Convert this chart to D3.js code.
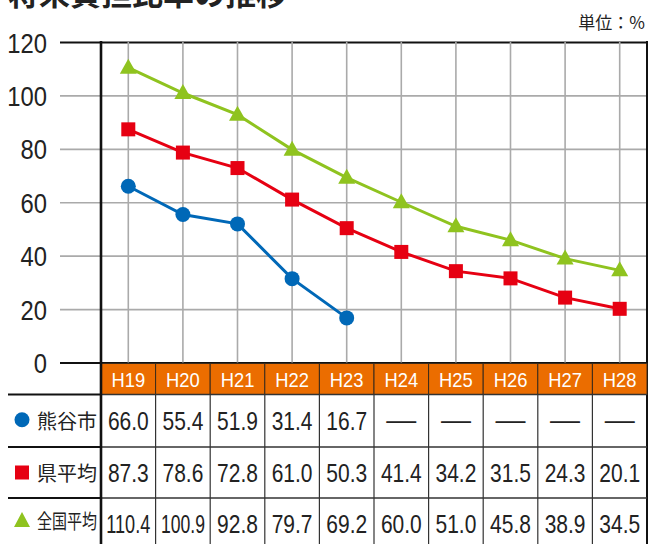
<!DOCTYPE html>
<html><head><meta charset="utf-8">
<script src="https://cdn.jsdelivr.net/npm/d3@7"></script>
<style>
html,body{margin:0;padding:0;background:#fff;}
svg{display:block;}
</style></head>
<body>
<svg id="c" width="649" height="544"></svg>
<script>
const title = "将来負担比率の推移";
const unitLabel = "単位：%";
const years = ["H19","H20","H21","H22","H23","H24","H25","H26","H27","H28"];
const kumagaya = [66.0,55.4,51.9,31.4,16.7,null,null,null,null,null];
const kenAvg = [87.3,78.6,72.8,61.0,50.3,41.4,34.2,31.5,24.3,20.1];
const national = [110.4,100.9,92.8,79.7,69.2,60.0,51.0,45.8,38.9,34.5];
const yTicks = [0,20,40,60,80,100,120];
const seriesNames = ["熊谷市","県平均","全国平均"];

const series = [
  {name:seriesNames[0], values:kumagaya, color:"#0068b7", shape:"circle"},
  {name:seriesNames[1], values:kenAvg, color:"#e60012", shape:"square"},
  {name:seriesNames[2], values:national, color:"#8fc31f", shape:"triangle"}
];

const svg = d3.select("#c");
const sans = "'Liberation Sans',Arimo,Arial,sans-serif";
const cjk = "'Noto Sans CJK JP','Noto Sans CJK SC',sans-serif";

const pL = 101, pR = 647, pT = 42, pB = 362.5;
const x = d3.scaleBand().domain(years).range([pL, pR]).padding(0);
const y = d3.scaleLinear().domain([0,120]).range([pB, pT]);
const cx = d => x(d) + x.bandwidth()/2;

// title
svg.append("text").attr("x",8).attr("y",5).attr("font-family",cjk).attr("font-weight","bold")
  .attr("font-size",31).attr("fill","#222").text(title);
svg.append("text").attr("x",645).attr("y",29).attr("text-anchor","end").attr("font-family",cjk)
  .attr("font-size",17).attr("fill","#222").text(unitLabel);

// horizontal grid
const yAxis = d3.axisLeft(y).tickValues(yTicks).tickSize(-(pR-60)).tickPadding(13).tickFormat(d3.format("d"));
const gy = svg.append("g").attr("transform",`translate(60,0)`).call(yAxis);
gy.select(".domain").remove();
gy.selectAll(".tick line").attr("stroke",d => (d===0||d===120)?"#111":"#aaa")
  .attr("stroke-width",d => (d===0||d===120)?2.2:1.6);
gy.selectAll(".tick text").attr("font-family",sans).attr("font-size",28).attr("fill","#222")
  .attr("x",0).attr("y",0).attr("dy",null).attr("text-anchor","end")
  .attr("transform","translate(-13,10) scale(0.85,1)");

// vertical grid
const xAxis = d3.axisBottom(x).tickSize(pB-pT).tickFormat("");
const gx = svg.append("g").attr("transform",`translate(0,${pT})`).call(xAxis);
gx.select(".domain").remove();
gx.selectAll(".tick line").attr("stroke","#aaa").attr("stroke-width",1.6);

// lines
const line = d3.line().defined(d => d.v!=null).x(d => cx(d.k)).y(d => y(d.v));
series.forEach(s => {
  const pts = years.map((k,i)=>({k, v:s.values[i]}));
  svg.append("path").datum(pts).attr("d",line).attr("fill","none")
    .attr("stroke",s.color).attr("stroke-width",3);
  const valid = pts.filter(d=>d.v!=null);
  const g = svg.append("g");
  valid.forEach(d=>{
    const px = cx(d.k), py = y(d.v);
    if(s.shape==="circle") g.append("circle").attr("cx",px).attr("cy",py).attr("r",7.5).attr("fill",s.color);
    else if(s.shape==="square") g.append("rect").attr("x",px-7).attr("y",py-7).attr("width",14).attr("height",14).attr("fill",s.color);
    else g.append("path").attr("d",`M${px},${py-9}L${px+8.5},${py+6}L${px-8.5},${py+6}Z`).attr("fill",s.color);
  });
});

// plot frame right
svg.append("line").attr("x1",pR).attr("x2",pR).attr("y1",pT-1).attr("y2",544).attr("stroke","#111").attr("stroke-width",2);

// header row
const hTop = 363.5, hBot = 394.5;
svg.append("g").selectAll("rect").data(years).join("rect")
  .attr("x",d=>x(d)).attr("y",hTop).attr("width",x.bandwidth()).attr("height",hBot-hTop)
  .attr("fill","#eb6d00").attr("stroke","#3a2a1a").attr("stroke-width",1);
svg.append("g").selectAll("text").data(years).join("text")
  .attr("transform",d=>`translate(${cx(d)},${hTop+23}) scale(0.92,1)`).attr("text-anchor","middle")
  .attr("font-family",sans).attr("font-size",20).attr("fill","#fff").text(d=>d);

// table rows
const rowTops = [394.5, 447, 498, 544];
rowTops.slice(0,3).forEach((t,i)=>{
  svg.append("line").attr("x1",8).attr("x2",pL).attr("y1",t).attr("y2",t).attr("stroke","#111").attr("stroke-width",2);
  svg.append("line").attr("x1",pL).attr("x2",pR).attr("y1",t).attr("y2",t).attr("stroke","#333").attr("stroke-width",1.3);
});
// column separators in table
svg.append("g").selectAll("line").data(years.slice(1)).join("line")
  .attr("x1",d=>x(d)).attr("x2",d=>x(d)).attr("y1",hBot).attr("y2",544)
  .attr("stroke","#333").attr("stroke-width",1.2);

const baselines = [430, 482, 533];
const fmt = d3.format(".1f");
series.forEach((s,i)=>{
  svg.append("g").selectAll("text").data(years.map((k,j)=>({k,v:s.values[j]}))).join("text")
    .attr("text-anchor","middle")
    .attr("font-family",sans).attr("font-size",25).attr("fill","#222")
    .text(d=> d.v==null ? "—" : fmt(d.v))
    .each(function(d){
      const by = d.v==null ? baselines[i]-1 : baselines[i];
      let sc;
      if(d.v==null) sc = 1.2;
      else { const w = this.getComputedTextLength(); sc = Math.min(0.84, 44/w); }
      d3.select(this).attr("transform",`translate(${cx(d.k)},${by}) scale(${sc},1)`);
    });
  const my = (rowTops[i]+rowTops[i+1])/2;
  const lx = 22;
  if(s.shape==="circle") svg.append("circle").attr("cx",lx).attr("cy",my-1).attr("r",7.5).attr("fill",s.color);
  else if(s.shape==="square") svg.append("rect").attr("x",lx-7).attr("y",my-7).attr("width",14).attr("height",14).attr("fill",s.color);
  else svg.append("path").attr("d",`M${lx},${my-9}L${lx+8},${my+6}L${lx-8},${my+6}Z`).attr("fill",s.color);
  const t = svg.append("text").attr("font-family",cjk).attr("font-size",20).attr("fill","#222").text(s.name);
  const w = t.node().getComputedTextLength();
  const sc = Math.min(1, 60/w);
  t.attr("transform",`translate(37,${my+8}) scale(${sc},1)`);
});

// thick left vertical line
svg.append("line").attr("x1",pL).attr("x2",pL).attr("y1",pT-1).attr("y2",544).attr("stroke","#111").attr("stroke-width",2.6);
</script>
</body></html>
